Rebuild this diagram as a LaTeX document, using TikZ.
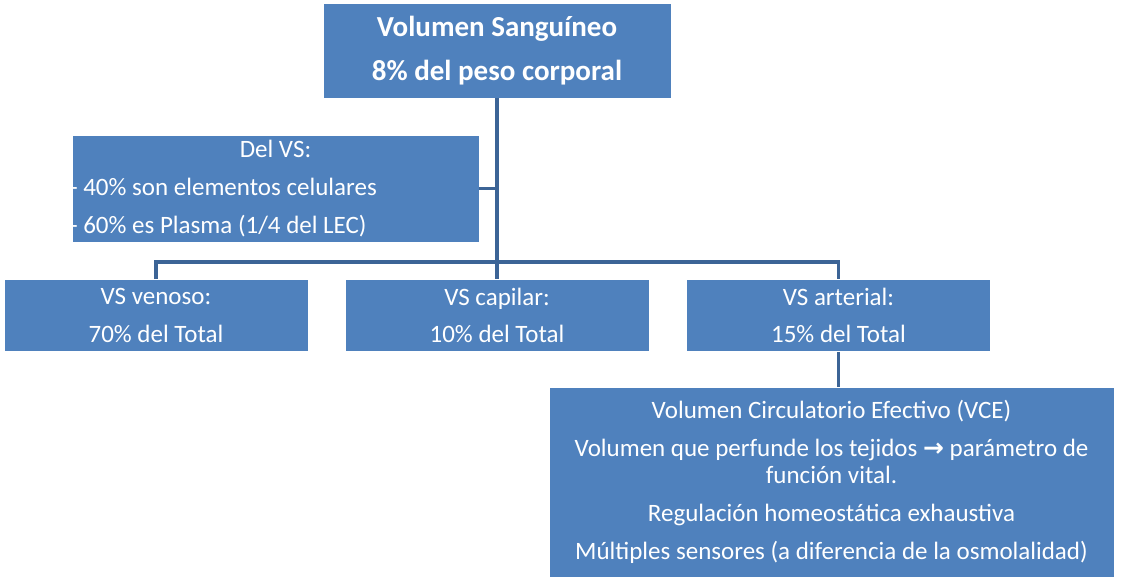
\documentclass[tikz,border=0pt]{standalone}
\usepackage{fontspec}
\setmainfont{Carlito}
\newfontfamily\symfont{DejaVu Sans}
\usetikzlibrary{positioning}
\definecolor{boxblue}{HTML}{4F81BD}
\definecolor{linkblue}{HTML}{3C6496}

\begin{document}
\begin{tikzpicture}[x=1pt,y=-1pt]
    \tikzset{box/.style={draw=white,line width=0.8pt,fill=boxblue,text=white,align=center,inner sep=0pt,
               font=\fontsize{25}{37.7}\selectfont},
             link/.style={draw=linkblue,line width=3.2pt}}
    \useasboundingbox (0,0) rectangle (1133,583);
    \node[box,minimum width=348pt,minimum height=95pt,font=\fontsize{29}{44}\selectfont\bfseries] (vs) at (497,50.5)
        {Volumen Sanguíneo\\8\% del peso corporal};
    \node[box,minimum width=407pt,minimum height=107pt,text width=407pt,align=flush left] (dvs) at (275.5,188.5)
        {\makebox[\linewidth][c]{Del VS:}\\\hspace{-2pt}- 40\% son elementos celulares\\\hspace{-2pt}- 60\% es Plasma (1/4 del LEC)};
    \node[box,minimum width=304pt,minimum height=72pt] (venoso) at (156,315.5) {VS venoso:\\70\% del Total};
    \node[box,minimum width=304pt,minimum height=72pt] (capilar) at (497,315.5) {VS capilar:\\10\% del Total};
    \node[box,minimum width=304pt,minimum height=72pt] (arterial) at (838.5,315.5) {VS arterial:\\15\% del Total};
    \node[box,minimum width=565pt,minimum height=190pt,font=\fontsize{25}{27}\selectfont] (vce) at (831.5,482)
        {Volumen Circulatorio Efectivo (VCE)\\[11pt]
         Volumen que perfunde los tejidos {\symfont\bfseries →} parámetro de\\función vital.\\[11pt]
         Regulación homeostática exhaustiva\\[11pt]
         Múltiples sensores (a diferencia de la osmolalidad)};
    \coordinate (bar) at (497,262);

    \draw[link] (vs.south) -- (capilar.north);
    \draw[link] (dvs.east) -- (dvs.east -| vs.south);
    \draw[link] (venoso.north) |- (bar) -| (arterial.north);
    \draw[link] (arterial.south) -- (arterial.south |- vce.north);
\end{tikzpicture}
\end{document}
